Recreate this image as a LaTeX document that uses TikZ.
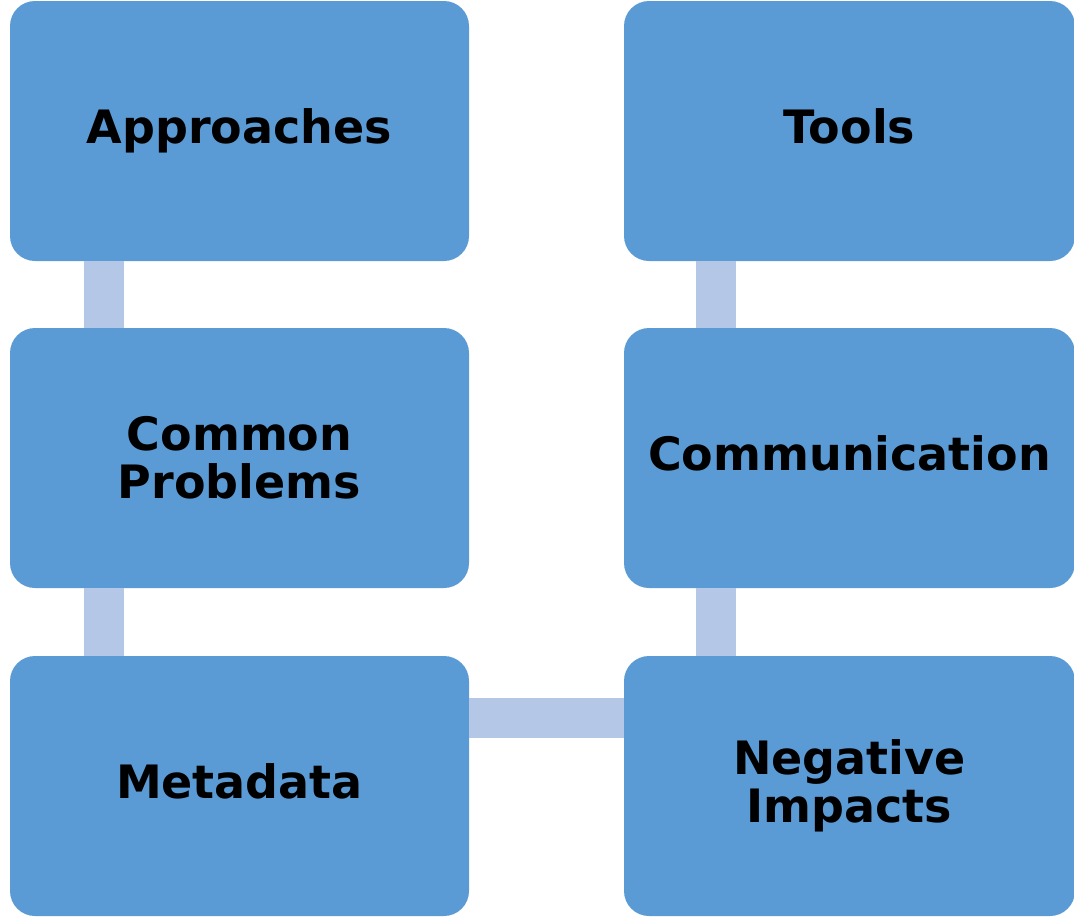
\documentclass[tikz,border=0pt]{standalone}
\usepackage{fontspec}
\setmainfont{DejaVu Sans}
\definecolor{boxblue}{HTML}{5B9BD5}
\definecolor{barblue}{HTML}{B4C7E7}
\begin{document}
\begin{tikzpicture}[x=1pt,y=-1pt,
  box/.style={fill=boxblue, draw=none, rounded corners=25pt, minimum width=459pt, minimum height=260pt, inner sep=0pt, align=center, font=\fontsize{46}{48}\selectfont\bfseries, text=black},
  bar/.style={fill=barblue, draw=none}]
\useasboundingbox (0,0) rectangle (1074,916);
\node[box] (app) at (239.5,131) {Approaches};
\node[box] (com) at (239.5,458) {Common\\Problems};
\node[box] (meta) at (239.5,786) {Metadata\vphantom{p}};
\node[box, minimum width=451pt] (tools) at (849.5,131) {Tools\vphantom{p}};
\node[box, minimum width=451pt] (comm) at (849.5,458) {Communication\vphantom{p}};
\node[box, minimum width=451pt] (neg) at (849.5,786) {Negative\\Impacts};
\fill[bar] ([xshift=-156pt]app.south) rectangle ([xshift=-116pt]com.north);
\fill[bar] ([xshift=-156pt]com.south) rectangle ([xshift=-116pt]meta.north);
\fill[bar] ([xshift=-154pt]tools.south) rectangle ([xshift=-114pt]comm.north);
\fill[bar] ([xshift=-154pt]comm.south) rectangle ([xshift=-114pt]neg.north);
\fill[bar] ([yshift=88pt]meta.east) rectangle ([yshift=48pt]neg.west);
\end{tikzpicture}
\end{document}
